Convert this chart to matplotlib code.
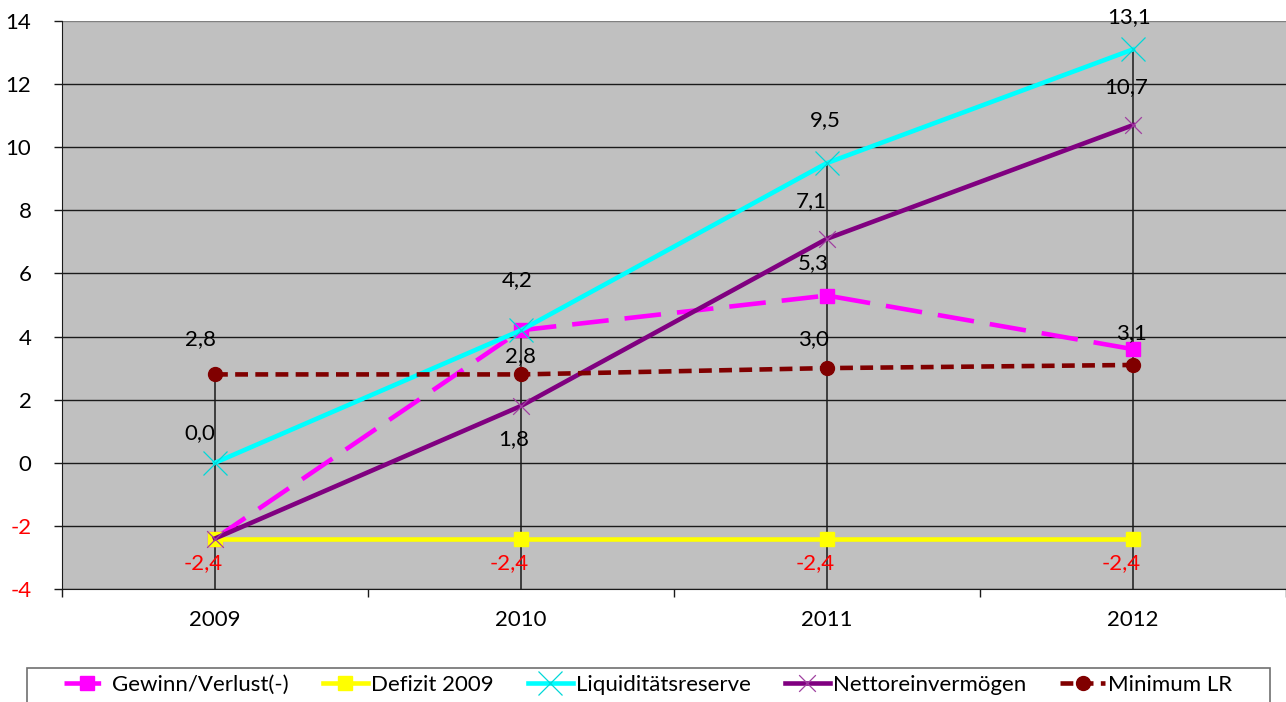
import matplotlib
matplotlib.use('Agg')
import matplotlib.pyplot as plt
from matplotlib.patches import Rectangle
from matplotlib.path import Path

# ---------------- data ----------------
years = ['2009', '2010', '2011', '2012']
gewinn = [-2.4, 4.2, 5.3, 3.6]
defizit = [-2.4, -2.4, -2.4, -2.4]
liquiditaet = [0.0, 4.2, 9.5, 13.1]
netto = [-2.4, 1.8, 7.1, 10.7]
minimum_lr = [2.8, 2.8, 3.0, 3.1]
y_ticks = [-4, -2, 0, 2, 4, 6, 8, 10, 12, 14]
series_names = ['Gewinn/Verlust(-)', 'Defizit 2009', 'Liquiditätsreserve',
                'Nettoreinvermögen', 'Minimum LR']

# ---------------- style ----------------
FONT = ['Lato', 'DejaVu Sans']
plt.rcParams['font.family'] = FONT
FS = 16
W, H = 1286, 702
fig = plt.figure(figsize=(W / 100, H / 100), dpi=100)
ax = fig.add_axes([62 / W, 1 - 589 / H, (W - 62) / W, (589 - 21) / H])
ax.set_facecolor('#C0C0C0')

x = list(range(len(years)))
ax.set_xlim(-0.5, len(years) - 0.5)
ax.set_ylim(-4, 14)

# gridlines
for yt in y_ticks:
    ax.axhline(yt, color='#808080' if yt == 14 else '#1a1a1a', lw=1.0, zorder=1)

# drop lines from the max value at each category
all_series = [gewinn, defizit, liquiditaet, netto, minimum_lr]
for i in x:
    top = max(s[i] for s in all_series)
    ax.plot([i, i], [-4, top], color='#1a1a1a', lw=1.1, zorder=1.5)

def px2pt(v):
    return v * 0.72

star = Path([(-1, -1), (1, 1), (-1, 1), (1, -1)],
            [Path.MOVETO, Path.LINETO, Path.MOVETO, Path.LINETO])

h1, = ax.plot(x, gewinn, color='#FF00FF', lw=3.3, dashes=(8, 3.5),
              marker='s', ms=10, mec='#FF00FF', zorder=3)
h2, = ax.plot(x, defizit, color='#FFFF00', lw=3.3, marker='s', ms=10,
              mec='#FFFF00', zorder=4)
h3, = ax.plot(x, liquiditaet, color='#00FFFF', lw=3.3, marker='x', ms=17,
              mew=0.9, mec='#00D8D8', zorder=5)
h4, = ax.plot(x, netto, color='#800080', lw=3.3, marker=star, ms=12,
              mew=0.9, mec='#A040A0', zorder=6)
h5, = ax.plot(x, minimum_lr, color='#800000', lw=3.3, dashes=(2.8, 1.6),
              marker='o', ms=10, mec='#800000', zorder=7)
for h in (h1, h5):
    h.set_dash_capstyle('butt')

def fmt(v):
    return f'{v:.1f}'.replace('.', ',')

# data labels: (series, index, dx px, dy px, colour)
label_specs = [
    (minimum_lr, 0, -14, 35, 'black'), (minimum_lr, 1, 0, 18, 'black'),
    (minimum_lr, 2, -14, 29, 'black'), (minimum_lr, 3, -2, 32, 'black'),
    (liquiditaet, 0, -15, 30, 'black'), (liquiditaet, 1, -4, 50, 'black'),
    (liquiditaet, 2, -2, 43, 'black'), (liquiditaet, 3, -4, 32, 'black'),
    (netto, 1, -7, -33, 'black'), (netto, 2, -16, 38, 'black'),
    (netto, 3, -7, 38, 'black'),
    (gewinn, 2, -14, 32, 'black'),
]
for i in x:
    label_specs.append((defizit, i, -12, -25, '#FF0000'))
for s, i, dx, dy, c in label_specs:
    ax.annotate(fmt(s[i]), (x[i], s[i]), xytext=(px2pt(dx), px2pt(dy)),
                textcoords='offset points', ha='center', va='center',
                fontsize=FS, color=c, zorder=10, annotation_clip=False)

# axes / ticks
ax.set_yticks(y_ticks)
ax.set_yticklabels([str(t) for t in y_ticks], fontsize=FS)
for t, lab in zip(y_ticks, ax.get_yticklabels()):
    lab.set_color('#FF0000' if t < 0 else 'black')
ax.tick_params(axis='y', direction='out', length=6, width=1, pad=16, color='#1a1a1a')

ax.set_xticks([i - 0.5 for i in range(len(years) + 1)])
ax.set_xticklabels([''] * (len(years) + 1))
ax.set_xticks(x, minor=True)
ax.set_xticklabels(years, minor=True, fontsize=FS)
ax.tick_params(axis='x', which='major', direction='out', length=6, width=1, color='#1a1a1a')
ax.tick_params(axis='x', which='minor', length=0, pad=15)

for side in ('top', 'right'):
    ax.spines[side].set_visible(False)
ax.spines['left'].set_color('#1a1a1a')
ax.spines['bottom'].set_color('#1a1a1a')

# legend
fig.patches.append(Rectangle((27 / W, -0.05), (1270 - 27) / W, 0.05 + 1 - 668 / H,
                             transform=fig.transFigure, fill=False,
                             edgecolor='#707070', lw=1.2, clip_on=False))
fig.legend([h1, h2, h3, h4, h5], series_names, loc='center left',
           bbox_to_anchor=(64 / W, 1 - 685 / H), ncol=5, frameon=False,
           fontsize=FS, handlelength=2.03, handletextpad=0.14,
           columnspacing=1.53, borderpad=0, borderaxespad=0, numpoints=1)

fig.savefig('out.png', dpi=100)
